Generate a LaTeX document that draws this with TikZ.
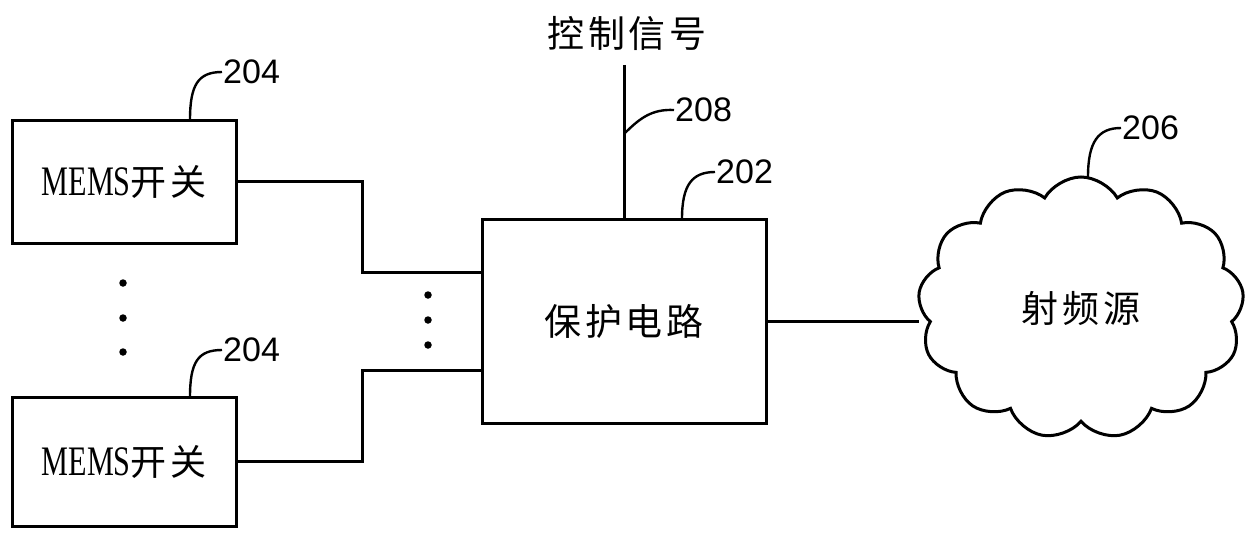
\documentclass[tikz,border=0pt]{standalone}
\usepackage{fontspec}
\setmainfont{Liberation Serif}
\newfontfamily\cjk{Noto Sans CJK SC}[LetterSpace=10]
\newfontfamily\numfont{Liberation Sans}
\usetikzlibrary{shapes.symbols}
\tikzset{
  wire/.style={line width=3pt},
  thin lead/.style={line width=2.4pt},
  boxnode/.style={draw, line width=3pt, rectangle, inner sep=0pt},
  numlabel/.style={font=\numfont\fontsize{34}{34}\selectfont, inner sep=1pt, anchor=west},
  dotnode/.style={circle, fill=black, inner sep=0pt, minimum size=7.5pt},
}
\begin{document}
\begin{tikzpicture}[x=1pt,y=-1pt]
\useasboundingbox (0,0) rectangle (1254,535);
% boxes
\node[boxnode, minimum width=224pt, minimum height=123pt] (m1) at (124,181.5)
  {\scalebox{0.72}[1]{\fontsize{42}{42}\selectfont MEMS}{\cjk\fontsize{36}{36}\selectfont 开关}};
\node[boxnode, minimum width=224pt, minimum height=129pt] (m2) at (124,461.5)
  {\scalebox{0.72}[1]{\fontsize{42}{42}\selectfont MEMS}{\cjk\fontsize{36}{36}\selectfont 开关}};
\node[boxnode, minimum width=284pt, minimum height=204pt] (p) at (624,321)
  {\cjk\fontsize{37}{37}\selectfont 保护电路};
\node[draw, line width=3pt, cloud, cloud puffs=13, cloud puff arc=120, aspect=1.25,
  minimum width=326pt, minimum height=262pt, inner sep=0pt] (c) at (1081,308)
  {\cjk\fontsize{37}{37}\selectfont 射频源};
\node (ctrl) at (627,33) {\cjk\fontsize{37}{37}\selectfont 控制信号};
% connectors
\coordinate (j1) at (362,272);
\coordinate (j2) at (362,370);
\coordinate (ctop) at (624,65);
\draw[wire] (m1.east) -| (j1) -- (j1 -| p.west);
\draw[wire] (m2.east) -| (j2) -- (j2 -| p.west);
\draw[wire] (ctop) -- (p.north);
\draw[wire] (p.east) -- (c.west |- p.east);
% dots
\node[dotnode] (d1) at (123,283) {};
\node[dotnode] (d2) at (123,318) {};
\node[dotnode] (d3) at (123,352) {};
\node[dotnode] (d4) at (428,295) {};
\node[dotnode] (d5) at (428,320) {};
\node[dotnode] (d6) at (428,345) {};
% labels
\node[numlabel] (l1) at (222,72) {204};
\node[numlabel] (l2) at (222,350) {204};
\node[numlabel] (l3) at (674,110) {208};
\node[numlabel] (l4) at (715,172) {202};
\node[numlabel] (l5) at (1121,128) {206};
\coordinate (s1) at (190,120);
\coordinate (s2) at (190,397);
\coordinate (s3) at (625,133);
\coordinate (s4) at (682,219);
\coordinate (s5) at (1088,177);
\draw[thin lead] (s1) .. controls (190,85) and (198,72) .. (l1.west);
\draw[thin lead] (s2) .. controls (190,362) and (198,350) .. (l2.west);
\draw[thin lead] (s3) .. controls (640,118) and (652,109) .. (l3.west);
\draw[thin lead] (s4) .. controls (682,185) and (692,172) .. (l4.west);
\draw[thin lead] (s5) .. controls (1088,142) and (1098,128) .. (l5.west);
\end{tikzpicture}
\end{document}
